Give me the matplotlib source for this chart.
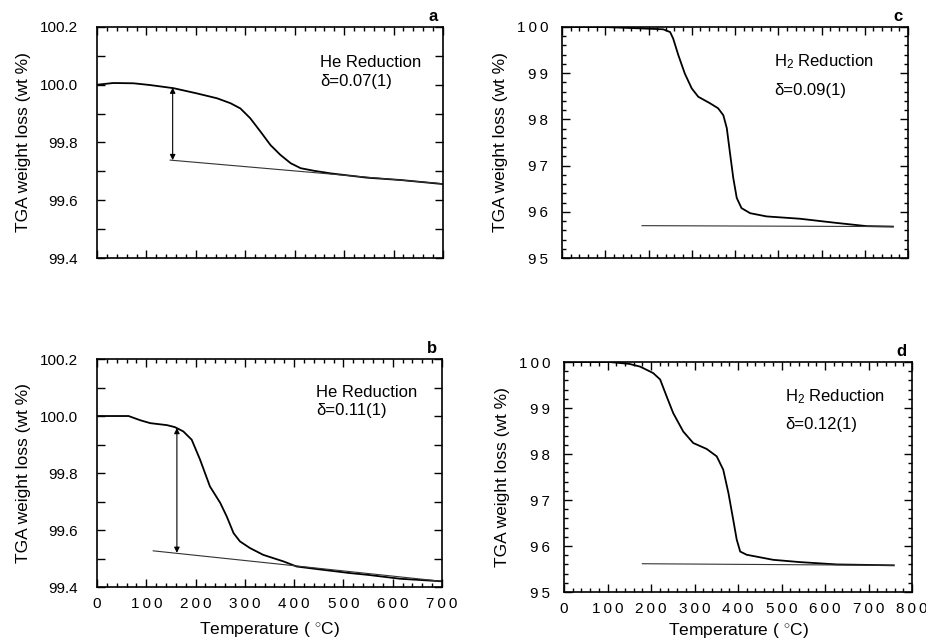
import numpy as np
import matplotlib
matplotlib.use('Agg')
import matplotlib.pyplot as plt
from matplotlib.ticker import MultipleLocator, FuncFormatter

plt.rcParams['font.family'] = ['Liberation Sans', 'DejaVu Sans']
plt.rcParams['mathtext.fontset'] = 'custom'
plt.rcParams['mathtext.rm'] = 'Liberation Sans'
plt.rcParams['mathtext.it'] = 'Liberation Sans'

# panel a: He reduction, delta = 0.07(1)
T_a = [0, 33, 74, 107, 155, 202, 243, 270, 290, 310, 331, 351, 371, 392, 412, 439, 473,
       547, 615, 700]
w_a = [100.0, 100.006, 100.005, 99.999, 99.988, 99.970, 99.953, 99.936, 99.918, 99.884,
       99.837, 99.791, 99.757, 99.728, 99.711, 99.702, 99.693, 99.678, 99.670, 99.656]
base_a_T = [148, 700]
base_a_w = [99.739, 99.657]
arrow_a = (153, 99.990, 99.739)

# panel b: He reduction, delta = 0.11(1)
T_b = [0, 64, 88, 108, 142, 158, 175, 192, 209, 229, 250, 263, 277, 290, 310, 337, 378,
       405, 446, 513, 548, 615, 700]
w_b = [100.0, 100.0, 99.985, 99.975, 99.968, 99.961, 99.946, 99.917, 99.847, 99.753,
       99.695, 99.648, 99.589, 99.560, 99.537, 99.513, 99.490, 99.472, 99.463, 99.449,
       99.443, 99.429, 99.420]
base_b_T = [114, 700]
base_b_w = [99.527, 99.420]
arrow_b = (162, 99.958, 99.520)

# panel c: H2 reduction, delta = 0.09(1)
T_c = [0, 95, 180, 234, 250, 257, 269, 284, 300, 315, 342, 361, 373, 381, 388, 396, 404,
       415, 435, 473, 550, 634, 704, 765]
w_c = [100.0, 100.0, 99.97, 99.95, 99.89, 99.75, 99.39, 98.99, 98.67, 98.49, 98.35, 98.24,
       98.09, 97.81, 97.30, 96.73, 96.30, 96.08, 95.97, 95.90, 95.85, 95.76, 95.69, 95.68]
base_c_T = [185, 765]
base_c_w = [95.70, 95.68]

# panel d: H2 reduction, delta = 0.12(1)
T_d = [0, 105, 150, 175, 205, 221, 236, 251, 274, 297, 328, 351, 366, 378, 389, 397, 405,
       420, 481, 543, 627, 758]
w_d = [100.0, 100.0, 99.96, 99.90, 99.76, 99.62, 99.25, 98.89, 98.49, 98.24, 98.11, 97.95,
       97.66, 97.15, 96.57, 96.14, 95.88, 95.81, 95.70, 95.65, 95.60, 95.58]
base_d_T = [180, 758]
base_d_w = [95.615, 95.58]

fig = plt.figure(figsize=(9.26, 6.41), dpi=100)
ax_a = fig.add_axes([0.1048, 0.5975, 0.3736, 0.3604])
ax_b = fig.add_axes([0.1048, 0.0842, 0.3726, 0.3557])
ax_c = fig.add_axes([0.6069, 0.5975, 0.3737, 0.3604])
ax_d = fig.add_axes([0.6091, 0.0764, 0.3758, 0.3588])

# the original prints tick numbers with wide letter spacing
spaced = lambda s: '\u2009'.join(s)


def style(ax, xmax, ymin, ymax, ymaj, ymin_step, fmt):
    ax.set_xlim(0, xmax)
    ax.set_ylim(ymin, ymax)
    ax.xaxis.set_major_locator(MultipleLocator(100))
    ax.xaxis.set_minor_locator(MultipleLocator(20))
    ax.yaxis.set_major_locator(MultipleLocator(ymaj))
    ax.yaxis.set_minor_locator(MultipleLocator(ymin_step))
    ax.yaxis.set_major_formatter(FuncFormatter(fmt))
    ax.xaxis.set_major_formatter(FuncFormatter(lambda v, p: spaced('%d' % round(v))))
    ax.tick_params(which='both', direction='in', top=True, right=True, width=1.0,
                   labelsize=11)
    ax.tick_params(axis='y', pad=14)
    ax.tick_params(axis='x', pad=7)
    ax.tick_params(which='major', length=6)
    ax.tick_params(which='minor', length=3)
    for s in ax.spines.values():
        s.set_linewidth(1.2)
    ax.set_ylabel('TGA weight loss (wt %)', fontsize=12.5, labelpad=6)


he_fmt = lambda v, p: '%.1f' % v
h2_fmt = lambda v, p: spaced('%d' % round(v))

for ax, T, w, bT, bw in [(ax_a, T_a, w_a, base_a_T, base_a_w), (ax_b, T_b, w_b, base_b_T, base_b_w)]:
    style(ax, 700, 99.4, 100.2, 0.2, 0.1, he_fmt)
    ax.tick_params(axis='y', which='minor', length=6)
    ax.plot(T, w, color='black', lw=1.3)
    ax.plot(bT, bw, color='#333333', lw=0.8)

for ax, T, w, bT, bw in [(ax_c, T_c, w_c, base_c_T, base_c_w), (ax_d, T_d, w_d, base_d_T, base_d_w)]:
    style(ax, 800, 95, 100, 1, 0.2, h2_fmt)
    ax.tick_params(axis='y', pad=10)
    ax.plot(T, w, color='black', lw=1.3)
    ax.plot(bT, bw, color='#333333', lw=0.8)

ax_a.set_xticklabels([])
ax_c.set_xticklabels([])
ax_b.set_xlabel('Temperature ( $^{\\circ}$C)', fontsize=12.5, labelpad=7)
ax_d.set_xlabel('Temperature ( $^{\\circ}$C)', fontsize=12.5, labelpad=4)

for ax, (x, y0, y1) in [(ax_a, arrow_a), (ax_b, arrow_b)]:
    ax.annotate('', xy=(x, y1), xytext=(x, y0),
                arrowprops=dict(arrowstyle='<|-|>', color='black', lw=0.8,
                                mutation_scale=8, shrinkA=0, shrinkB=0))

notes = [(ax_a, 'He Reduction', '\u03b4=0.07(1)', 'a', 0.645, 0.848, 0.762),
         (ax_b, 'He Reduction', '\u03b4=0.11(1)', 'b', 0.635, 0.855, 0.776),
         (ax_c, 'H$_2$ Reduction', '\u03b4=0.09(1)', 'c', 0.613, 0.848, 0.727),
         (ax_d, 'H$_2$ Reduction', '\u03b4=0.12(1)', 'd', 0.635, 0.848, 0.730)]
for ax, l1, l2, lab, tx, ty1, ty2 in notes:
    ax.text(tx, ty1, l1, transform=ax.transAxes, fontsize=12, va='center')
    ax.text(tx, ty2, l2, transform=ax.transAxes, fontsize=12, va='center')
    ax.text(0.985, 1.015, lab, transform=ax.transAxes, fontsize=12, fontweight='bold',
            ha='right', va='bottom')

fig.savefig('out.png', dpi=100)
